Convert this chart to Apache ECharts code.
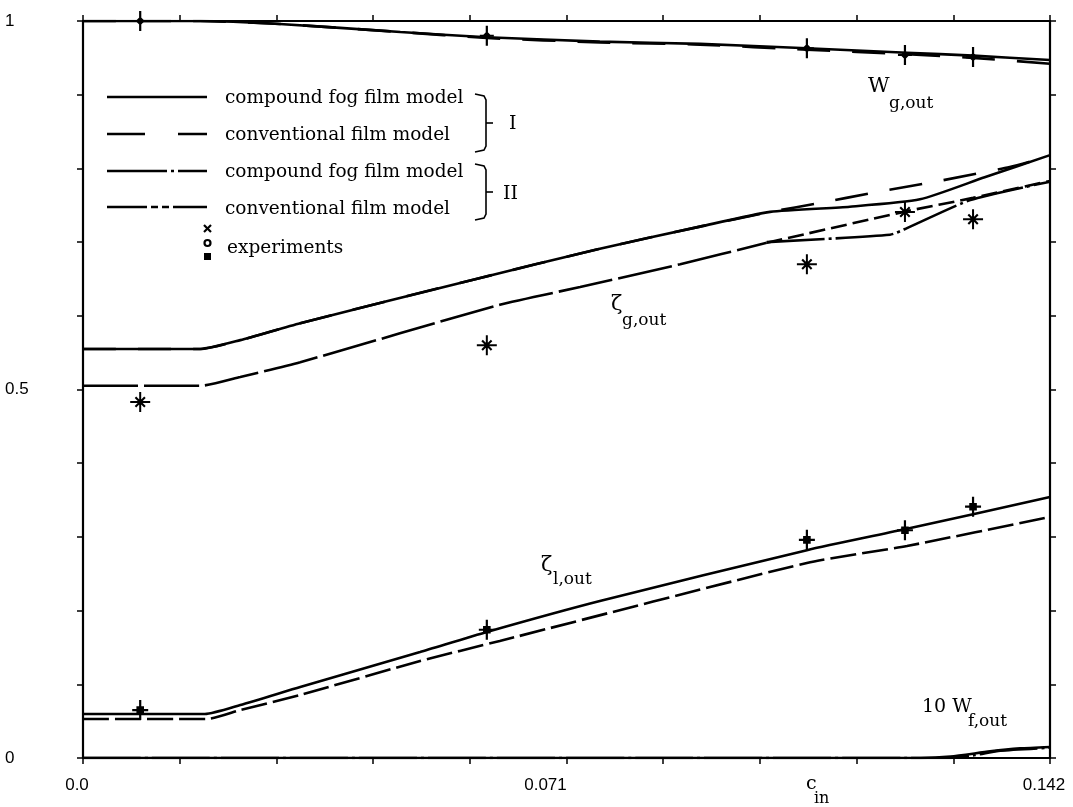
<!DOCTYPE html>
<html>
<head>
<meta charset="utf-8">
<script src="https://cdn.jsdelivr.net/npm/echarts@6/dist/echarts.min.js"></script>
<style>html,body{margin:0;padding:0;background:#fff;}#chart{width:1073px;height:807px;}</style>
</head>
<body>
<div id="chart"></div>
<script>
// ---- axis tick labels ----
const xLabelValues = [0, 0.071, 0.142];
const xLabelTexts = ['0.0', '0.071', '0.142'];
const yLabelValues = [0, 0.5, 1];
const yLabelTexts = ['0', '0.5', '1'];

// ---- W_g,out ----
const wg_compoundI = [[0,1.0],[0.0172,1.0],[0.0289,0.996],[0.0466,0.985],[0.0593,0.978],[0.0759,0.972],[0.0906,0.969],[0.1063,0.963],[0.121,0.957],[0.1307,0.953],[0.142,0.947]];
const wg_conventionalI = [[0,1.0],[0.0172,1.0],[0.0289,0.996],[0.0466,0.985],[0.0593,0.977],[0.0759,0.971],[0.0906,0.968],[0.1063,0.961],[0.121,0.955],[0.1307,0.950],[0.142,0.942]];
const wg_exp = [[0.0084,1.0],[0.0593,0.980],[0.1063,0.963],[0.1207,0.954],[0.1307,0.951]];

// ---- zeta_g,out ----
const zg_compoundI = [[0,0.555],[0.0172,0.555],[0.0231,0.567],[0.0319,0.590],[0.0573,0.649],[0.0759,0.691],[0.0906,0.721],[0.1009,0.741],[0.1126,0.748],[0.1229,0.758],[0.1324,0.788],[0.142,0.818]];
const zg_conventionalI = [[0,0.555],[0.0172,0.555],[0.0231,0.567],[0.0319,0.590],[0.0573,0.649],[0.0759,0.691],[0.0906,0.721],[0.1009,0.741],[0.1082,0.753],[0.1160,0.767],[0.1263,0.784],[0.1361,0.802],[0.142,0.817]];
const zg_II_common = [[0,0.505],[0.0172,0.505],[0.0231,0.517],[0.0319,0.537],[0.0612,0.615],[0.0730,0.639],[0.0877,0.670],[0.1004,0.699]];
const zg_conventionalII_tail = [[0.1004,0.699],[0.1210,0.742],[0.1307,0.760],[0.142,0.783]];
const zg_compoundII_tail = [[0.1004,0.700],[0.1185,0.710],[0.1210,0.719],[0.1303,0.757],[0.142,0.782]];
const zg_exp = [[0.0084,0.483],[0.0593,0.560],[0.1063,0.670],[0.1207,0.741],[0.1307,0.731]];

// ---- zeta_l,out ----
const zl_compoundI = [[0,0.0597],[0.0179,0.0597],[0.0231,0.0719],[0.0319,0.0963],[0.0495,0.1438],[0.0593,0.171],[0.0759,0.213],[0.1063,0.282],[0.121,0.311],[0.142,0.354]];
const zl_conventionalI = [[0,0.0529],[0.0182,0.0529],[0.0231,0.0651],[0.0319,0.0855],[0.0495,0.1316],[0.0612,0.1588],[0.1063,0.2646],[0.121,0.2877],[0.142,0.327]];
const zl_exp = [[0.0084,0.065],[0.0593,0.174],[0.1063,0.296],[0.1207,0.309],[0.1307,0.341]];

// ---- 10 W_f,out ----
const wf_compoundI = [[0,0],[0.123,0],[0.1274,0.002],[0.1332,0.009],[0.1376,0.013],[0.142,0.015]];
const wf_compoundII = [[0,0],[0.127,0],[0.131,0.004],[0.1347,0.010],[0.142,0.014]];

const SERIF = '"DejaVu Serif", "Liberation Serif", serif';
const SANS = '"Liberation Sans", Arial, sans-serif';

const dashI = [33, 22];
const dashDot = [58, 4, 3, 4];
const dashShort = [16, 6];

const symWg = 'path://M-1.1,-10H1.1V10H-1.1Z M-7,-1.1H7V1.1H-7Z M0,-4.5L4.5,0L0,4.5L-4.5,0Z';
const symZg = 'path://M-1,-10H1V10H-1Z M-10,-1H10V1H-10Z M-5.5,-4L-4,-5.5L5.5,4L4,5.5Z M4,-5.5L5.5,-4L-4,5.5L-5.5,4Z M0,-3L3,0L0,3L-3,0Z';
const symZl = 'path://M-1.1,-10H1.1V10H-1.1Z M-8,-1.1H8V1.1H-8Z M-3.8,-3.8H3.8V3.8H-3.8Z';

function lineSeries(data, type, width) {
  return {
    type: 'line', data: data, showSymbol: false, symbol: 'none',
    smooth: 0.2, animation: false, z: 3,
    lineStyle: { color: '#000', width: width || 2.6, type: type || 'solid' }
  };
}
function expSeries(data, sym, size) {
  return {
    type: 'scatter', data: data, symbol: sym, symbolSize: size,
    itemStyle: { color: '#000', opacity: 1 }, z: 5, animation: false
  };
}

function xFmt(v) {
  for (let i = 0; i < xLabelValues.length; i++) {
    if (Math.abs(v - xLabelValues[i]) < 1e-6) return '{p' + i + '|' + xLabelTexts[i] + '}';
  }
  return '';
}
function yFmt(v) {
  for (let i = 0; i < yLabelValues.length; i++) {
    if (Math.abs(v - yLabelValues[i]) < 1e-6) return yLabelTexts[i];
  }
  return '';
}

const axisLine = { show: true, onZero: false, lineStyle: { color: '#000', width: 2.2 } };
const axisTick = { show: true, length: 6, lineStyle: { color: '#000', width: 1.5 } };
const labFont = { fontFamily: SANS, fontSize: 17, color: '#000' };

function txt(x, y, text, size, family) {
  return { type: 'text', x: x, y: y, z: 10,
    style: { text: text, font: size + 'px ' + (family || SERIF), fill: '#000', align: 'left', verticalAlign: 'middle' } };
}
function seg(x1, y1, x2, y2, dash, w) {
  return { type: 'line', z: 10, shape: { x1: x1, y1: y1, x2: x2, y2: y2 },
    style: { stroke: '#000', lineWidth: w || 2.6, lineDash: dash || null } };
}
function bracket(yTop, yBot) {
  const yMid = (yTop + yBot) / 2;
  return [
    { type: 'polyline', z: 10, shape: { points: [[475, yTop], [484, yTop + 2], [486, yTop + 6], [486, yBot - 6], [484, yBot - 2], [475, yBot]] },
      style: { stroke: '#000', fill: null, lineWidth: 1.6 } },
    seg(486, yMid, 493, yMid, null, 1.6)
  ];
}

const graphic = [].concat(
  [
    seg(107, 97, 207, 97, null),
    seg(107, 134, 207, 134, [38, 33]),
    seg(107, 171, 207, 171, [60, 4, 3, 4]),
    seg(107, 207, 207, 207, [40, 4, 7, 4, 7, 4]),
    txt(225, 98, 'compound fog film model', 18.5),
    txt(225, 135, 'conventional film model', 18.5),
    txt(225, 172, 'compound fog film model', 18.5),
    txt(225, 209, 'conventional film model', 18.5),
    seg(204, 225, 211, 232, null, 2.2),
    seg(211, 225, 204, 232, null, 2.2),
    { type: 'circle', z: 10, shape: { cx: 207.5, cy: 243, r: 3 }, style: { stroke: '#000', fill: null, lineWidth: 2.2 } },
    { type: 'rect', z: 10, shape: { x: 204, y: 253, width: 7, height: 7 }, style: { fill: '#000' } },
    txt(227, 248, 'experiments', 18.5),
    txt(509, 124, 'I', 19),
    txt(503, 194, 'II', 19)
  ],
  bracket(94, 152),
  bracket(164, 220),
  [
    txt(868, 87, 'W', 21), txt(889, 104, 'g,out', 17),
    txt(611, 305, 'ζ', 21), txt(622, 321, 'g,out', 17),
    txt(541, 566, 'ζ', 21), txt(553, 580, 'l,out', 17),
    txt(922, 707, '10 W', 19), txt(968, 722, 'f,out', 17),
    txt(806, 784, 'c', 19), txt(814, 799, 'in', 16)
  ]
);

const chart = echarts.init(document.getElementById('chart'), null, { renderer: 'canvas' });
chart.setOption({
  backgroundColor: '#fff',
  animation: false,
  grid: { left: 83, right: 23, top: 21, bottom: 49, containLabel: false },
  xAxis: [
    { type: 'value', min: 0, max: 0.142, interval: 0.0142, position: 'bottom',
      axisLine: axisLine, axisTick: axisTick, splitLine: { show: false },
      axisLabel: { show: true, margin: 19, formatter: xFmt, showMinLabel: true, showMaxLabel: true,
        fontFamily: SANS, fontSize: 17, color: '#000',
        rich: {
          p0: Object.assign({ padding: [0, 12, 0, 0] }, labFont),
          p1: Object.assign({ padding: [0, 42, 0, 0] }, labFont),
          p2: Object.assign({ padding: [0, 12, 0, 0] }, labFont)
        } } },
    { type: 'value', min: 0, max: 0.142, interval: 0.0142, position: 'top',
      axisLine: axisLine, axisTick: axisTick, splitLine: { show: false }, axisLabel: { show: false } }
  ],
  yAxis: [
    { type: 'value', min: 0, max: 1, interval: 0.1, position: 'left',
      axisLine: axisLine, axisTick: axisTick, splitLine: { show: false },
      axisLabel: { show: true, margin: 78, align: 'left', formatter: yFmt, fontFamily: SANS, fontSize: 17, color: '#000' } },
    { type: 'value', min: 0, max: 1, interval: 0.1, position: 'right',
      axisLine: axisLine, axisTick: axisTick, splitLine: { show: false }, axisLabel: { show: false } }
  ],
  series: [
    lineSeries(wg_compoundI, 'solid'),
    lineSeries(wg_conventionalI, dashI),
    lineSeries(zg_compoundI, 'solid'),
    lineSeries(zg_conventionalI, dashI),
    lineSeries(zg_II_common, [55, 6]),
    lineSeries(zg_conventionalII_tail, dashShort),
    lineSeries(zg_compoundII_tail, dashDot),
    lineSeries(zl_compoundI, 'solid'),
    lineSeries(zl_conventionalI, [26, 6]),
    lineSeries(wf_compoundI, 'solid'),
    lineSeries(wf_compoundII, dashDot),
    expSeries(wg_exp, symWg, [14, 20]),
    expSeries(zg_exp, symZg, [20, 20]),
    expSeries(zl_exp, symZl, [16, 20])
  ],
  graphic: graphic
});
</script>
</body>
</html>
